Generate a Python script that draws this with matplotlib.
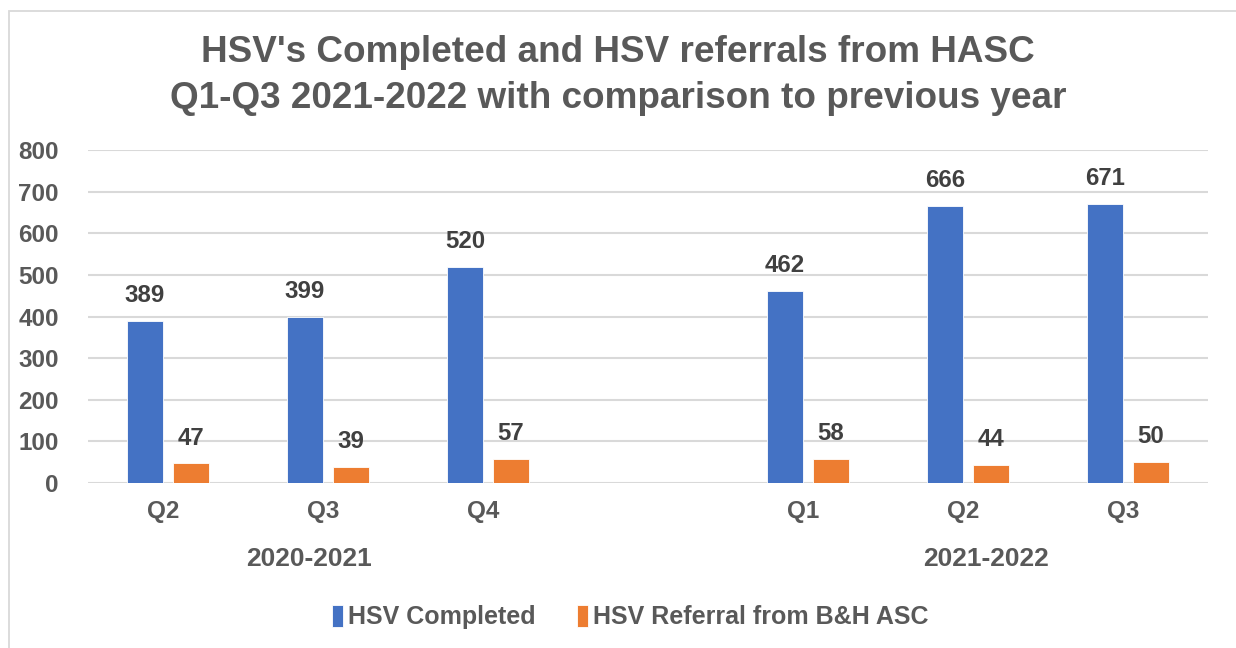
import matplotlib.pyplot as plt
from matplotlib.patches import Rectangle
import numpy as np

plt.rcParams['font.family'] = ['Liberation Sans', 'DejaVu Sans']

# data
quarters = ["Q2", "Q3", "Q4", "Q1", "Q2", "Q3"]
years = ["2020-2021", "2021-2022"]
year_of_quarter = [0, 0, 0, 1, 1, 1]
completed = [389, 399, 520, 462, 666, 671]
referral = [47, 39, 57, 58, 44, 50]
series_names = ["HSV Completed", "HSV Referral from B&H ASC"]

blue = "#4472C4"
orange = "#ED7D31"
grey_txt = "#595959"
label_txt = "#404040"
grid_col = "#d9d9d9"

# slot positions, with an empty slot between the two years
x = np.array([i + yr for i, yr in enumerate(year_of_quarter)], dtype=float)
w = 0.225
off = 0.144

fig = plt.figure(figsize=(12.36, 6.48), dpi=100)
fig.patches.append(Rectangle((9 / 1236, -0.1), 1.2, (1 - 11 / 648) + 0.1,
                             transform=fig.transFigure, fill=False,
                             edgecolor=grid_col, linewidth=1.3))
ax = fig.add_axes([88 / 1236, 1 - 483 / 648, 1120 / 1236, 333 / 648])

b1 = ax.bar(x - off, completed, w, color=blue, edgecolor="white", linewidth=0.6,
            label=series_names[0], zorder=3)
b2 = ax.bar(x + off, referral, w, color=orange, edgecolor="white", linewidth=0.6,
            label=series_names[1], zorder=3)
for bars in (b1, b2):
    ax.bar_label(bars, padding=10, fontsize=17.3, fontweight="bold", color=label_txt)

ax.set_ylim(0, 800)
ax.set_xlim(-0.5, 6.5)
ax.set_yticks(range(0, 801, 100))
ax.set_xticks(x - 0.03, quarters)
ax.grid(axis="y", color=grid_col, linewidth=1.5, zorder=0)
for s in ax.spines.values():
    s.set_visible(False)
ax.tick_params(axis="both", length=0, labelsize=17.5, labelcolor=grey_txt)
ax.tick_params(axis="x", pad=12)
ax.tick_params(axis="y", pad=21)
for t in ax.get_xticklabels() + ax.get_yticklabels():
    t.set_fontweight("bold")

# year group labels under the quarters
for k, (yr, shift) in enumerate(zip(years, [-0.12, 0.11])):
    xs = x[np.array(year_of_quarter) == k]
    ax.text(xs.mean() + shift, -0.229, yr, transform=ax.get_xaxis_transform(),
            ha="center", va="center", fontsize=19, fontweight="bold", color=grey_txt)

fig.text(0.5, 1 - 53 / 648, "HSV's Completed and HSV referrals from HASC",
         ha="center", va="center", fontsize=26.6, fontweight="bold", color=grey_txt)
fig.text(0.5, 1 - 98 / 648, "Q1-Q3 2021-2022 with comparison to previous year",
         ha="center", va="center", fontsize=26.6, fontweight="bold", color=grey_txt)

fig.legend(handles=[b1, b2], loc="center", bbox_to_anchor=(0.51, 1 - 617 / 648),
           ncol=2, frameon=False, handlelength=0.45, handleheight=1.0,
           handletextpad=0.2, columnspacing=1.65,
           prop={"weight": "bold", "size": 18})
for t in fig.legends[0].get_texts():
    t.set_color(grey_txt)

fig.savefig("out.png", dpi=100)
